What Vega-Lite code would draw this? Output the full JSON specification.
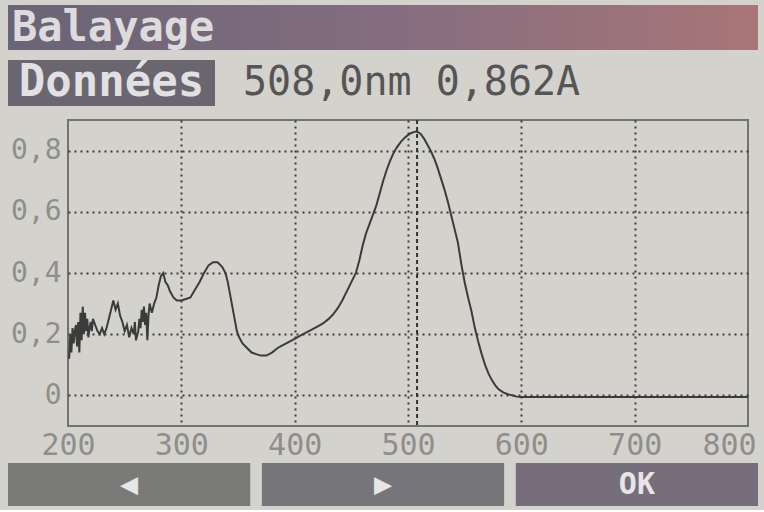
{
  "$schema": "https://vega.github.io/schema/vega-lite/v6.json",
  "background": "#d4d2cd",
  "padding": {"left": 8, "top": 5, "right": 4, "bottom": 4},
  "spacing": 2,
  "align": "none",
  "config": {"view": {"stroke": null}, "font": "DejaVu Sans Mono"},
  "vconcat": [
    {
      "width": 750,
      "height": 45,
      "data": {"values": [{"ecran": "Balayage"}]},
      "layer": [
        {
          "mark": {"type": "rect", "color": {"gradient": "linear", "x1": 0, "x2": 1, "y1": 0, "y2": 0, "stops": [{"offset": 0, "color": "#696476"}, {"offset": 0.5, "color": "#846d80"}, {"offset": 1, "color": "#a87677"}]}},
          "encoding": {"x": {"field": "ecran", "type": "nominal", "axis": null, "scale": {"paddingInner": 0, "paddingOuter": 0}}}
        },
        {
          "mark": {"type": "text", "align": "left", "baseline": "middle", "dx": 4, "fontSize": 42, "fontWeight": "bold", "color": "#dedbdd"},
          "encoding": {
            "x": {"field": "ecran", "type": "nominal", "bandPosition": 0, "axis": null},
            "text": {"field": "ecran"}
          }
        }
      ]
    },
    {
      "hconcat": [
        {
          "width": 207,
          "height": 64,
          "data": {"values": [{"rang": "r", "onglet": "Données"}]},
          "encoding": {"y": {"field": "rang", "type": "nominal", "axis": null, "scale": {"paddingInner": 0, "paddingOuter": 0.1957, "align": 0.444}}},
          "layer": [
            {"mark": {"type": "rect", "color": "#69666f"}},
            {"mark": {"type": "text", "fontSize": 44, "fontWeight": "bold", "color": "#e2e0e2", "baseline": "middle"}, "encoding": {"text": {"field": "onglet"}}}
          ]
        },
        {
          "width": 520,
          "height": 64,
          "data": {"values": [{"rang": "r", "lecture": "508,0nm 0,862A"}]},
          "mark": {"type": "text", "align": "left", "baseline": "middle", "dx": 3, "fontSize": 40, "color": "#555555"},
          "encoding": {
            "x": {"field": "lecture", "type": "nominal", "bandPosition": 0, "axis": null, "scale": {"type": "band", "paddingInner": 0, "paddingOuter": 0}},
            "y": {"field": "rang", "type": "nominal", "axis": null, "scale": {"type": "band", "paddingInner": 0, "paddingOuter": 0.1957, "align": 0.444}},
            "text": {"field": "lecture"}
          }
        }
      ],
      "spacing": 25
    },
    {
      "hconcat": [
        {
          "width": 1,
          "height": 306,
          "data": {"values": [{"vide": 0}]},
          "mark": {"type": "rect", "opacity": 0},
          "encoding": {}
        },
        {
          "width": 680,
          "height": 306,
          "view": {"stroke": "#727270", "strokeWidth": 2},
          "layer": [
            {
              "data": {"values": [
                {"nm": 201, "A": 0.12}, {"nm": 202, "A": 0.2}, {"nm": 203, "A": 0.14}, {"nm": 204, "A": 0.22}, {"nm": 205, "A": 0.17},
                {"nm": 206, "A": 0.21}, {"nm": 207, "A": 0.23}, {"nm": 208, "A": 0.16}, {"nm": 209, "A": 0.24}, {"nm": 210, "A": 0.14},
                {"nm": 211, "A": 0.27}, {"nm": 212, "A": 0.18}, {"nm": 213, "A": 0.29}, {"nm": 214, "A": 0.2}, {"nm": 215, "A": 0.27},
                {"nm": 216, "A": 0.21}, {"nm": 217, "A": 0.25}, {"nm": 218, "A": 0.19}, {"nm": 219, "A": 0.22}, {"nm": 220, "A": 0.24},
                {"nm": 221, "A": 0.21}, {"nm": 222, "A": 0.25}, {"nm": 224, "A": 0.23}, {"nm": 226, "A": 0.21}, {"nm": 228, "A": 0.2},
                {"nm": 230, "A": 0.22}, {"nm": 232, "A": 0.2}, {"nm": 234, "A": 0.22}, {"nm": 236, "A": 0.25}, {"nm": 238, "A": 0.28},
                {"nm": 240, "A": 0.31}, {"nm": 242, "A": 0.28}, {"nm": 244, "A": 0.3}, {"nm": 246, "A": 0.26}, {"nm": 248, "A": 0.24},
                {"nm": 250, "A": 0.21}, {"nm": 252, "A": 0.23}, {"nm": 254, "A": 0.19}, {"nm": 256, "A": 0.22}, {"nm": 258, "A": 0.2},
                {"nm": 259, "A": 0.24}, {"nm": 260, "A": 0.18}, {"nm": 262, "A": 0.21}, {"nm": 263, "A": 0.25}, {"nm": 264, "A": 0.22},
                {"nm": 265, "A": 0.28}, {"nm": 266, "A": 0.24}, {"nm": 267, "A": 0.29}, {"nm": 268, "A": 0.23}, {"nm": 269, "A": 0.27},
                {"nm": 270, "A": 0.18}, {"nm": 271, "A": 0.26}, {"nm": 272, "A": 0.3}, {"nm": 274, "A": 0.27}, {"nm": 276, "A": 0.3},
                {"nm": 278, "A": 0.32}, {"nm": 280, "A": 0.36}, {"nm": 282, "A": 0.39}, {"nm": 284, "A": 0.4}, {"nm": 286, "A": 0.37},
                {"nm": 288, "A": 0.36}, {"nm": 290, "A": 0.34}, {"nm": 293, "A": 0.32}, {"nm": 296, "A": 0.31}, {"nm": 300, "A": 0.31},
                {"nm": 304, "A": 0.315}, {"nm": 308, "A": 0.32}, {"nm": 312, "A": 0.345}, {"nm": 316, "A": 0.37}, {"nm": 320, "A": 0.4},
                {"nm": 324, "A": 0.425}, {"nm": 328, "A": 0.435}, {"nm": 332, "A": 0.435}, {"nm": 336, "A": 0.42}, {"nm": 339, "A": 0.4},
                {"nm": 341, "A": 0.37}, {"nm": 343, "A": 0.33}, {"nm": 345, "A": 0.29}, {"nm": 347, "A": 0.25}, {"nm": 349, "A": 0.21},
                {"nm": 351, "A": 0.19}, {"nm": 354, "A": 0.17}, {"nm": 358, "A": 0.155}, {"nm": 362, "A": 0.14}, {"nm": 366, "A": 0.135},
                {"nm": 370, "A": 0.13}, {"nm": 375, "A": 0.13}, {"nm": 380, "A": 0.14}, {"nm": 385, "A": 0.155}, {"nm": 390, "A": 0.165},
                {"nm": 395, "A": 0.175}, {"nm": 400, "A": 0.185}, {"nm": 405, "A": 0.195}, {"nm": 410, "A": 0.205}, {"nm": 415, "A": 0.215},
                {"nm": 420, "A": 0.225}, {"nm": 425, "A": 0.235}, {"nm": 430, "A": 0.25}, {"nm": 434, "A": 0.265}, {"nm": 438, "A": 0.285},
                {"nm": 442, "A": 0.31}, {"nm": 446, "A": 0.34}, {"nm": 450, "A": 0.37}, {"nm": 454, "A": 0.4}, {"nm": 457, "A": 0.44},
                {"nm": 460, "A": 0.49}, {"nm": 463, "A": 0.53}, {"nm": 466, "A": 0.56}, {"nm": 469, "A": 0.59}, {"nm": 472, "A": 0.62},
                {"nm": 475, "A": 0.66}, {"nm": 478, "A": 0.7}, {"nm": 481, "A": 0.735}, {"nm": 484, "A": 0.765}, {"nm": 487, "A": 0.79},
                {"nm": 490, "A": 0.81}, {"nm": 494, "A": 0.83}, {"nm": 498, "A": 0.845}, {"nm": 502, "A": 0.856}, {"nm": 506, "A": 0.862},
                {"nm": 508, "A": 0.862}, {"nm": 511, "A": 0.855}, {"nm": 514, "A": 0.84}, {"nm": 517, "A": 0.82}, {"nm": 520, "A": 0.8},
                {"nm": 523, "A": 0.775}, {"nm": 526, "A": 0.745}, {"nm": 529, "A": 0.71}, {"nm": 532, "A": 0.675}, {"nm": 535, "A": 0.635},
                {"nm": 538, "A": 0.59}, {"nm": 541, "A": 0.545}, {"nm": 544, "A": 0.5}, {"nm": 547, "A": 0.43}, {"nm": 550, "A": 0.37},
                {"nm": 553, "A": 0.32}, {"nm": 556, "A": 0.275}, {"nm": 559, "A": 0.22}, {"nm": 562, "A": 0.175}, {"nm": 565, "A": 0.135},
                {"nm": 568, "A": 0.1}, {"nm": 571, "A": 0.072}, {"nm": 574, "A": 0.05}, {"nm": 577, "A": 0.033}, {"nm": 580, "A": 0.02},
                {"nm": 584, "A": 0.01}, {"nm": 588, "A": 0.004}, {"nm": 592, "A": 0.0}, {"nm": 596, "A": -0.004}, {"nm": 600, "A": -0.005},
                {"nm": 650, "A": -0.005}, {"nm": 700, "A": -0.005}, {"nm": 750, "A": -0.005}, {"nm": 800, "A": -0.005}
              ]},
              "mark": {"type": "line", "color": "#3b3b3b", "strokeWidth": 2},
              "encoding": {
                "x": {
                  "field": "nm", "type": "quantitative",
                  "scale": {"domain": [200, 800], "nice": false, "zero": false},
                  "axis": {
                    "title": null, "values": [200, 300, 400, 500, 600, 700, 800], "format": "d",
                    "labelFontSize": 30, "labelColor": "#8f8e8b", "labelPadding": 4, "labelFlush": false, "labelOverlap": false,
                    "labelOffset": {"condition": {"test": "datum.value == 800", "value": -19}, "value": 0},
                    "ticks": false, "domain": false, "grid": true, "gridColor": "#3d3d3d", "gridWidth": 2, "gridDash": [2, 4],
                    "gridOpacity": {"condition": {"test": "datum.value == 200 || datum.value == 800", "value": 0}, "value": 1}
                  }
                },
                "y": {
                  "field": "A", "type": "quantitative",
                  "scale": {"domain": [-0.1, 0.9], "nice": false, "zero": false},
                  "axis": {
                    "title": null, "values": [0, 0.2, 0.4, 0.6, 0.8], "format": ".1~f",
                    "labelExpr": "replace(datum.label, '.', ',')",
                    "labelFontSize": 28, "labelColor": "#8f8e8b", "labelPadding": 7, "labelOverlap": false,
                    "ticks": false, "domain": false, "grid": true, "gridColor": "#3d3d3d", "gridWidth": 2, "gridDash": [2, 4]
                  }
                }
              }
            },
            {
              "data": {"values": [{"nm": 508}]},
              "mark": {"type": "rule", "color": "#333333", "strokeWidth": 2, "strokeDash": [4, 3]},
              "encoding": {"x": {"field": "nm", "type": "quantitative"}}
            }
          ]
        }
      ],
      "spacing": 0
    },
    {
      "width": 750,
      "height": 43,
      "data": {"values": [{"touche": "◀"}, {"touche": "▶"}, {"touche": "OK"}]},
      "encoding": {"x": {"field": "touche", "type": "nominal", "sort": null, "axis": null, "scale": {"paddingInner": 0.046, "paddingOuter": 0}}},
      "layer": [
        {
          "mark": "rect",
          "encoding": {"color": {"field": "touche", "type": "nominal", "sort": null, "scale": {"range": ["#7a7b78", "#767579", "#776e7c"]}, "legend": null}}
        },
        {
          "mark": {"type": "text", "color": "#e6e6e6", "fontSize": 30, "fontWeight": "bold", "baseline": "middle"},
          "encoding": {"text": {"field": "touche"}}
        }
      ]
    }
  ]
}
